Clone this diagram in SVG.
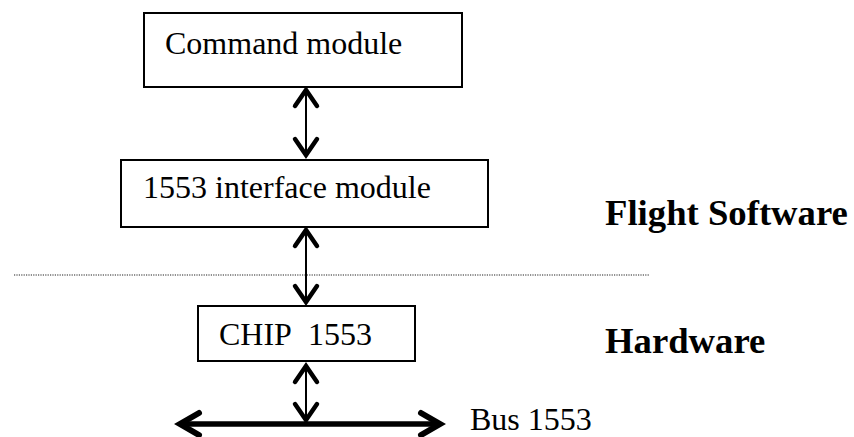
<svg xmlns="http://www.w3.org/2000/svg" width="854" height="437" viewBox="0 0 854 437">
<style>
.box{fill:#fff;stroke:#000;stroke-width:2}
.t{font-family:"Liberation Serif","Times New Roman",serif;font-size:32px;fill:#000}
.b{font-family:"Liberation Serif","Times New Roman",serif;font-size:36.7px;font-weight:bold;fill:#000}
.shaft{stroke:#000;stroke-width:2;fill:none}
.head{stroke:#000;stroke-width:4.5;fill:none;stroke-linejoin:miter;stroke-linecap:round}
.bus{stroke:#000;stroke-width:5.5;fill:none}
.bushead{stroke:#000;stroke-width:6;fill:none;stroke-linecap:round}
</style>
<g id="divider">
<line x1="14" y1="275" x2="650" y2="275" stroke="#222" stroke-width="1.2" stroke-dasharray="1.2 1.2"/>
</g>
<g id="command-module">
<rect class="box" x="144" y="13" width="318" height="74"/>
<text class="t" x="165" y="54">Command module</text>
</g>
<g id="interface-module">
<rect class="box" x="121" y="160" width="367" height="67"/>
<text class="t" x="143" y="198">1553 interface module</text>
</g>
<g id="chip">
<rect class="box" x="198" y="306" width="217" height="55"/>
<text class="t" x="219" y="345">CHIP&#160; 1553</text>
</g>
<g id="labels">
<text class="b" x="605" y="225">Flight Software</text>
<text class="b" x="605" y="353">Hardware</text>
<text class="t" x="470" y="430">Bus 1553</text>
</g>
<g id="connectors">
<line class="shaft" x1="306" y1="90" x2="306" y2="155"/>
<polyline class="head" points="295,106 306,90 317,106"/>
<polyline class="head" points="295,139 306,155 317,139"/>
<line class="shaft" x1="306" y1="230" x2="306" y2="302"/>
<polyline class="head" points="295,246 306,230 317,246"/>
<polyline class="head" points="295,286 306,302 317,286"/>
<line class="shaft" x1="306" y1="366" x2="306" y2="420"/>
<polyline class="head" points="295,382 306,366 317,382"/>
<polyline class="head" points="295,404 306,420 317,404"/>
<line class="bus" x1="180" y1="424" x2="440" y2="424"/>
<polyline class="bushead" points="199,413 180,424 199,435"/>
<polyline class="bushead" points="421,413 440,424 421,435"/>
</g>
</svg>
